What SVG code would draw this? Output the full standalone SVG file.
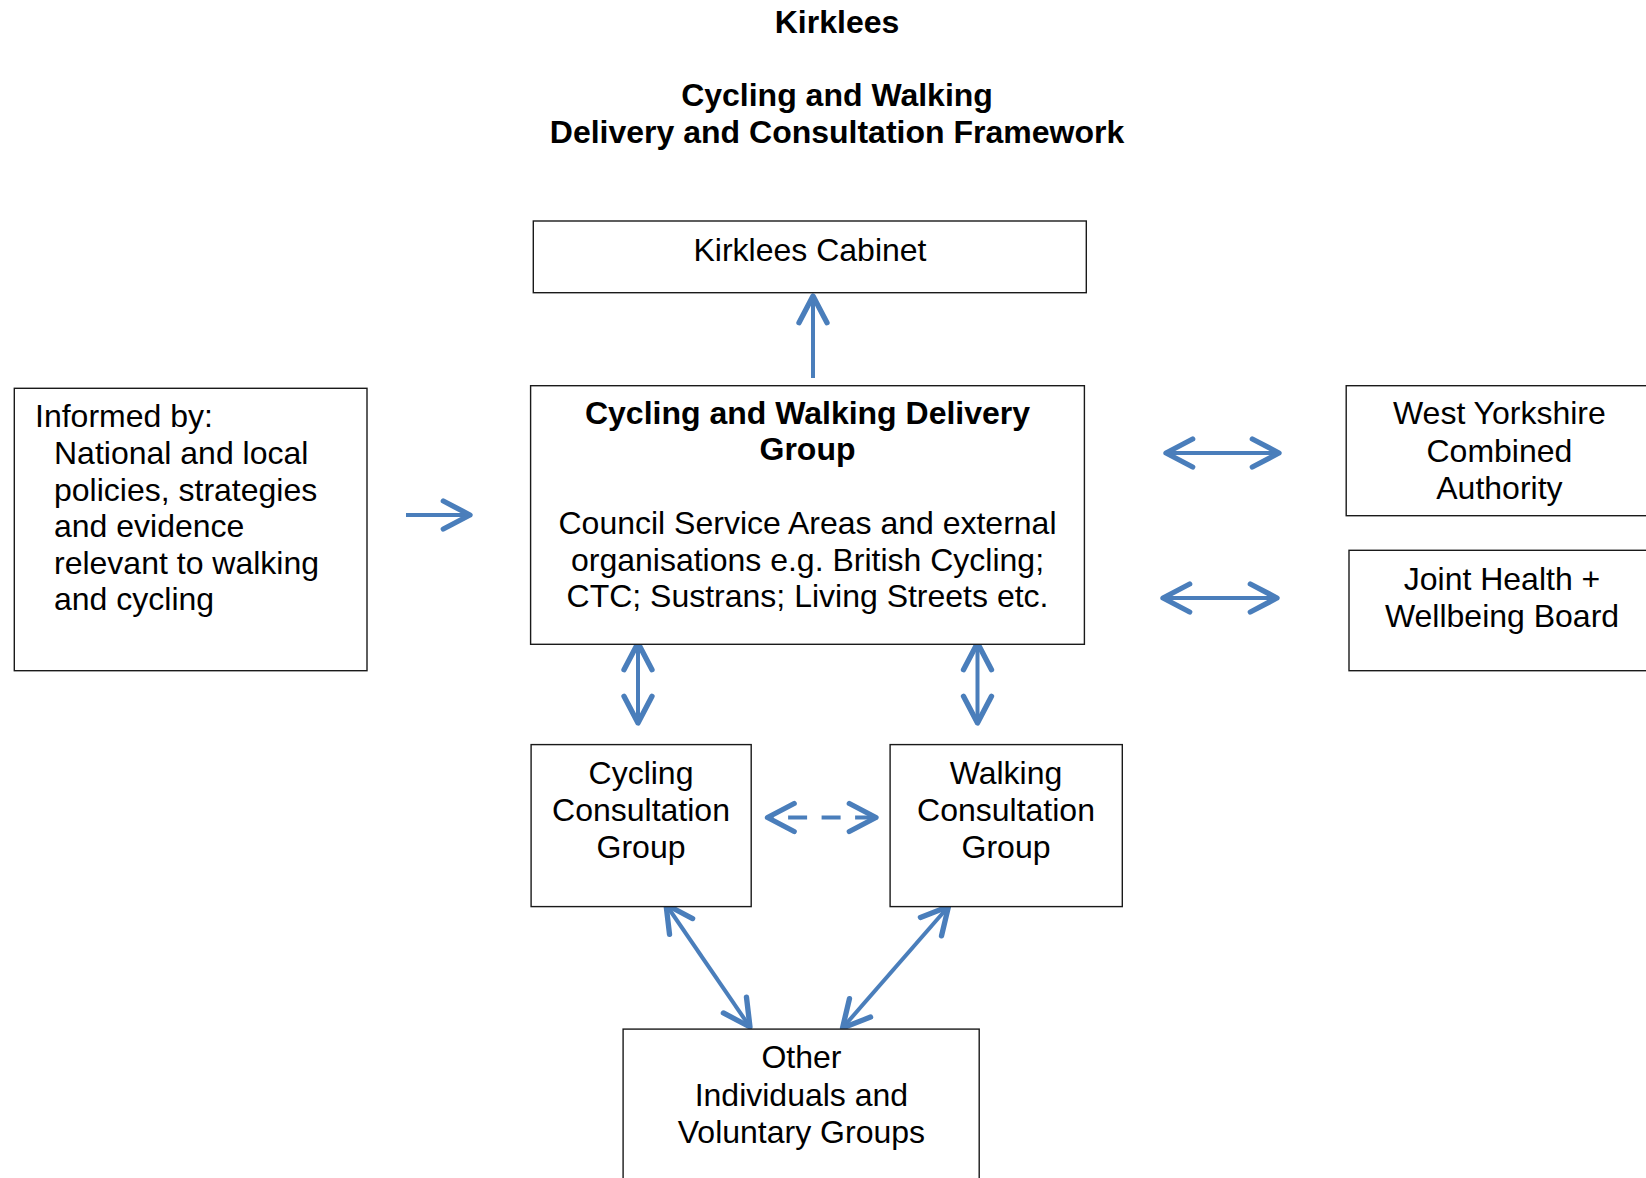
<svg xmlns="http://www.w3.org/2000/svg" width="1646" height="1178" viewBox="0 0 1646 1178">
<style>
text{font-family:"Liberation Sans",Arial,sans-serif;font-size:32px;fill:#000}
.b{font-weight:bold}
.c{text-anchor:middle}
.box{fill:#fff;stroke:#1a1a1a;stroke-width:1.4}
.con{fill:none;stroke:#4A7EBB;stroke-width:4}
.dash{stroke-dasharray:19 14.5;stroke-dashoffset:12.9}
</style>
<defs>
<marker id="ah" markerUnits="userSpaceOnUse" markerWidth="40" markerHeight="40" viewBox="-25 -15 30 30" refX="0" refY="0" orient="auto-start-reverse" overflow="visible">
<path d="M-20,-10.5 L0,0 L-20,10.5" fill="none" stroke="#4A7EBB" stroke-width="4" stroke-linecap="round" stroke-linejoin="round"/>
</marker>
</defs>
<g id="title">
<text class="b c" x="837" y="33">Kirklees</text>
<text class="b c" x="837" y="106">Cycling and Walking</text>
<text class="b c" x="837" y="143">Delivery and Consultation Framework</text>
</g>
<g id="connectors">
<line class="con" x1="813" y1="378" x2="813" y2="296" marker-end="url(#ah)"/>
<line class="con" x1="406" y1="515" x2="470" y2="515" marker-end="url(#ah)"/>
<line class="con" x1="1166" y1="453" x2="1279" y2="453" marker-start="url(#ah)" marker-end="url(#ah)"/>
<line class="con" x1="1163" y1="598" x2="1277" y2="598" marker-start="url(#ah)" marker-end="url(#ah)"/>
<line class="con" x1="638" y1="643" x2="638" y2="723" marker-start="url(#ah)" marker-end="url(#ah)"/>
<line class="con" x1="977.5" y1="643" x2="977.5" y2="723" marker-start="url(#ah)" marker-end="url(#ah)"/>
<line class="con dash" x1="767.5" y1="817.5" x2="876" y2="817.5" marker-start="url(#ah)" marker-end="url(#ah)"/>
<line class="con" x1="666" y1="904.5" x2="750" y2="1027" marker-start="url(#ah)" marker-end="url(#ah)"/>
<line class="con" x1="948.5" y1="906.5" x2="842.5" y2="1028" marker-start="url(#ah)" marker-end="url(#ah)"/>
</g>
<g id="cabinet">
<rect class="box" x="533.3" y="221" width="553" height="71.7"/>
<text class="c" x="810" y="261">Kirklees Cabinet</text>
</g>
<g id="delivery">
<rect class="box" x="530.6" y="385.7" width="553.8" height="258.6"/>
<text class="b c" x="807.5" y="424">Cycling and Walking Delivery</text>
<text class="b c" x="807.5" y="460">Group</text>
<text class="c" x="807.5" y="534.3">Council Service Areas and external</text>
<text class="c" x="807.5" y="571">organisations e.g. British Cycling;</text>
<text class="c" x="807.5" y="607.3">CTC; Sustrans; Living Streets etc.</text>
</g>
<g id="informed">
<rect class="box" x="14.3" y="388.3" width="352.7" height="282.4"/>
<text x="35" y="427.3">Informed by:</text>
<text x="54" y="464.3">National and local</text>
<text x="54" y="501">policies, strategies</text>
<text x="54" y="536.7">and evidence</text>
<text x="54" y="574">relevant to walking</text>
<text x="54" y="610">and cycling</text>
</g>
<g id="wyca">
<rect class="box" x="1346.2" y="385.7" width="320" height="130"/>
<text class="c" x="1499.4" y="424.3">West Yorkshire</text>
<text class="c" x="1499.4" y="461.7">Combined</text>
<text class="c" x="1499.4" y="499">Authority</text>
</g>
<g id="health">
<rect class="box" x="1349" y="550.3" width="320" height="120.4"/>
<text class="c" x="1502" y="590">Joint Health +</text>
<text class="c" x="1502" y="626.7">Wellbeing Board</text>
</g>
<g id="cycling">
<rect class="box" x="531.1" y="744.6" width="220.1" height="162"/>
<text class="c" x="641" y="784">Cycling</text>
<text class="c" x="641" y="821">Consultation</text>
<text class="c" x="641" y="858">Group</text>
</g>
<g id="walking">
<rect class="box" x="890.1" y="744.6" width="232.2" height="162"/>
<text class="c" x="1006" y="784">Walking</text>
<text class="c" x="1006" y="821">Consultation</text>
<text class="c" x="1006" y="858">Group</text>
</g>
<g id="other">
<rect class="box" x="623.1" y="1029.1" width="356.1" height="170"/>
<text class="c" x="801.4" y="1068.2">Other</text>
<text class="c" x="801.4" y="1105.6">Individuals and</text>
<text class="c" x="801.4" y="1142.7">Voluntary Groups</text>
</g>
</svg>
